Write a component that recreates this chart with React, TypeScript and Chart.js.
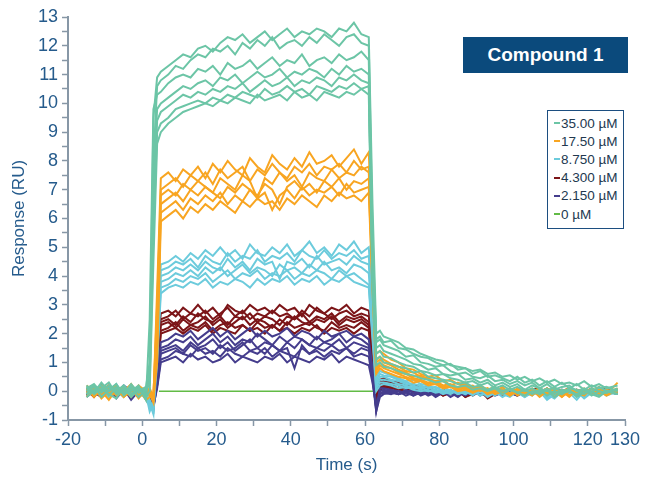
import React, { useEffect, useRef } from "react";
import { Chart, registerables } from "chart.js";
Chart.register(...registerables);

// time grid (s)
const T = [-15,-13,-11,-9,-7,-5,-3,-1,1, 2,3,4,5, 7,9,11,13,15,17,19,21,23,25,27,29,31,33,35,37,39,41,43,45,47,49,51,53,55,57,59,61, 62,63,64, 65,67,69,71,73,75,77,79,81,83,85,87,89,91,93,95,97,99,101,103,105,107,109,111,113,115,117,119,121,123,125,128];

const LABELS = ["35.00 µM", "17.50 µM", "8.750 µM", "4.300 µM", "2.150 µM", "0 µM"];
const COLORS = ["#6cc5a6", "#f8a521", "#6ccbdc", "#7c1518", "#453d8d", "#62bb46"];

// 35.00 µM replicates
const G1 = [0.1,0.25,-0.05,0.15,0.0,0.2,-0.1,0.1,0.0, 0.8,9.5,10.9,11.1, 11.3,11.5,11.7,11.6,11.9,12.0,11.8,12.1,12.3,12.2,12.4,12.1,12.3,12.5,12.2,12.4,12.6,12.3,12.5,12.4,12.6,12.5,12.3,12.6,12.5,12.8,12.4,12.3, 6.5,2.0,2.1, 1.9,1.8,1.7,1.5,1.45,1.3,1.2,1.1,1.05,0.9,0.85,0.8,0.7,0.75,0.6,0.65,0.5,0.55,0.4,0.5,0.35,0.45,0.3,0.4,0.25,0.3,0.2,0.35,0.15,0.25,0.1,0.2];
const G2 = [-0.1,0.05,0.2,-0.15,0.1,-0.05,0.15,-0.2,0.05, 0.3,8.0,10.6,10.8, 11.0,11.3,11.2,11.5,11.7,11.6,11.9,11.8,12.0,11.7,12.1,11.9,12.2,12.0,12.3,11.9,12.1,12.2,12.0,12.3,12.1,12.4,12.2,12.0,12.3,12.4,12.1,12.0, 5.5,1.8,1.9, 1.7,1.75,1.5,1.45,1.3,1.2,1.15,1.0,0.9,0.95,0.75,0.8,0.6,0.7,0.5,0.55,0.45,0.35,0.5,0.3,0.4,0.2,0.35,0.15,0.3,0.1,0.25,0.05,0.2,0.1,0.15,0.0];
const G3 = [0.2,-0.1,0.1,0.3,-0.1,0.1,0.0,0.2,-0.3, 2.5,9.8,10.3,10.4, 10.7,10.9,11.0,10.9,11.2,11.1,11.3,11.0,11.4,11.2,11.3,11.5,11.2,11.4,11.6,11.3,11.5,11.4,11.7,11.3,11.5,11.6,11.4,11.7,11.5,11.6,11.8,11.5, 5.0,1.7,1.8, 1.6,1.5,1.4,1.2,1.25,1.0,0.95,0.85,0.9,0.7,0.6,0.65,0.5,0.45,0.55,0.35,0.4,0.25,0.35,0.2,0.3,0.1,0.25,0.05,0.15,0.2,0.0,0.1,-0.05,0.15,0.0,0.05];
const G4 = [0.0,0.2,-0.2,0.05,0.25,-0.15,0.1,0.0,0.15, 1.0,7.5,9.8,10.0, 10.2,10.4,10.6,10.5,10.7,10.8,10.6,10.9,10.8,11.0,10.7,10.9,11.1,10.9,11.0,11.2,10.9,11.1,11.0,11.2,11.1,10.9,11.2,11.0,11.3,11.1,11.2,11.0, 4.5,1.5,1.6, 1.4,1.3,1.2,1.1,0.95,0.9,0.75,0.8,0.6,0.55,0.6,0.4,0.45,0.3,0.4,0.2,0.3,0.15,0.25,0.05,0.2,0.1,0.0,0.15,-0.05,0.1,0.05,-0.1,0.1,0.0,-0.05,0.1];
const G5 = [-0.2,0.0,0.1,-0.1,-0.25,0.15,-0.2,0.05,-0.1, 0.5,6.5,9.4,9.7, 9.9,10.1,10.3,10.2,10.4,10.3,10.5,10.4,10.6,10.5,10.7,10.4,10.6,10.8,10.6,10.7,10.9,10.6,10.8,10.7,10.9,10.8,10.6,10.9,10.8,11.0,10.8,10.7, 4.0,1.3,1.4, 1.2,1.15,1.0,0.9,0.85,0.7,0.65,0.55,0.6,0.45,0.4,0.3,0.35,0.2,0.3,0.1,0.2,0.05,0.15,0.0,0.1,-0.05,0.1,-0.1,0.05,0.0,-0.1,0.05,-0.15,0.0,-0.05,0.05];
const G6 = [0.1,-0.05,0.3,0.0,0.15,-0.1,0.25,-0.05,0.1, 0.2,5.5,9.0,9.3, 9.5,9.8,9.9,10.0,10.1,10.0,10.2,10.1,10.3,10.2,10.4,10.3,10.2,10.5,10.3,10.4,10.6,10.4,10.5,10.3,10.6,10.5,10.4,10.6,10.5,10.7,10.5,10.6, 3.8,1.1,1.2, 1.0,0.95,0.85,0.8,0.65,0.7,0.5,0.45,0.4,0.35,0.25,0.3,0.15,0.2,0.05,0.15,0.0,0.1,-0.05,0.05,-0.1,0.05,-0.15,0.0,-0.1,0.05,-0.2,-0.05,0.0,-0.15,0.0,-0.1];
const G7 = [-0.1,0.15,0.0,0.2,-0.05,0.05,-0.15,0.15,-0.2, 0.0,4.5,8.6,9.0, 9.3,9.5,9.7,9.8,9.9,10.0,9.9,10.1,10.0,10.2,10.1,10.0,10.3,10.1,10.2,10.3,10.1,10.4,10.2,10.3,10.1,10.4,10.3,10.2,10.4,10.3,10.5,10.3, 3.5,0.9,1.0, 0.85,0.8,0.7,0.6,0.55,0.45,0.4,0.3,0.35,0.2,0.15,0.2,0.05,0.1,0.0,0.1,-0.1,0.05,-0.05,-0.15,0.0,-0.1,0.05,-0.2,-0.05,0.0,-0.15,0.05,-0.1,-0.2,0.0,-0.1];

// 17.50 µM replicates
const O1 = [0.1,-0.2,0.05,0.2,-0.1,0.0,0.25,-0.15,0.1, -0.1,-0.3,3.5,7.4, 7.6,7.3,7.7,7.5,7.8,7.4,7.9,7.6,8.0,7.7,7.5,8.1,7.8,7.6,8.2,7.9,7.7,8.1,7.8,8.3,7.9,8.0,8.2,7.8,8.1,8.4,7.9,8.3, 5.0,1.3,1.4, 1.3,1.1,1.0,0.8,0.75,0.6,0.5,0.55,0.35,0.4,0.25,0.3,0.1,0.2,0.05,0.15,-0.1,0.1,0.0,-0.15,0.05,-0.05,0.1,-0.2,0.0,0.1,-0.1,0.05,-0.05,0.15,-0.1,0.3];
const O2 = [-0.1,0.15,-0.25,0.0,0.2,-0.2,0.05,0.1,-0.3, -0.2,-0.1,2.5,7.0, 7.2,7.4,7.1,7.5,7.3,7.6,7.2,7.7,7.4,7.6,7.8,7.3,7.7,7.5,7.9,7.6,7.4,7.8,7.6,7.9,7.5,7.8,7.7,7.9,7.6,8.0,7.7,7.8, 4.5,1.1,1.2, 1.1,0.95,0.85,0.7,0.65,0.5,0.45,0.35,0.4,0.2,0.3,0.15,0.2,0.0,0.1,-0.05,0.15,-0.1,0.05,0.0,-0.15,0.1,-0.05,0.05,-0.2,0.0,-0.1,0.1,-0.05,0.0,-0.15,0.05];
const O3 = [0.2,0.0,0.1,-0.1,0.15,0.05,-0.2,0.2,0.0, 0.1,-0.2,3.0,6.8, 7.0,6.8,7.2,7.0,7.3,7.1,6.9,7.4,7.2,7.0,7.5,7.3,6.7,7.4,7.2,7.6,7.3,7.5,7.1,7.6,7.4,7.3,7.7,7.4,7.6,7.5,7.8,7.6, 4.2,1.0,1.1, 1.0,0.9,0.75,0.65,0.5,0.55,0.4,0.3,0.35,0.2,0.15,0.25,0.05,0.15,-0.05,0.1,0.0,-0.1,0.1,-0.05,0.05,-0.2,0.0,0.1,-0.1,0.05,-0.05,-0.15,0.1,0.0,-0.1,0.0];
const O4 = [-0.2,0.1,0.0,-0.3,0.05,0.15,-0.1,0.0,0.1, -0.1,-0.4,2.0,6.5, 6.7,6.9,6.6,7.0,6.8,7.1,6.9,6.7,7.1,6.9,7.2,7.0,6.8,7.2,7.0,6.5,7.1,7.3,7.0,7.2,6.9,7.3,7.1,7.4,7.0,7.3,7.2,7.4, 4.0,0.8,1.0, 0.9,0.8,0.65,0.6,0.45,0.4,0.3,0.35,0.2,0.25,0.1,0.15,0.0,0.1,-0.1,0.05,-0.05,0.1,-0.15,0.0,0.05,-0.1,0.1,-0.05,0.0,-0.2,0.05,-0.05,0.1,-0.1,0.0,0.05];
const O5 = [0.05,-0.1,0.2,0.1,-0.15,-0.05,0.1,-0.25,0.05, 0.0,-0.2,1.5,6.2, 6.4,6.6,6.3,6.7,6.5,6.8,6.6,6.9,6.5,6.8,6.6,7.0,6.7,6.9,6.3,6.8,7.0,6.7,7.1,6.8,7.0,6.9,7.1,6.8,7.2,6.9,7.0,7.1, 3.8,0.7,0.9, 0.8,0.7,0.6,0.5,0.4,0.35,0.25,0.3,0.15,0.2,0.05,0.1,-0.05,0.05,0.1,-0.1,0.0,-0.15,0.05,-0.05,0.0,0.1,-0.1,0.0,-0.2,0.05,-0.05,0.0,-0.1,0.05,-0.05,0.1];
const O6 = [-0.05,0.2,-0.1,0.05,0.1,-0.2,0.0,0.15,-0.15, -0.1,-0.3,1.0,5.9, 6.1,6.3,6.0,6.4,6.2,6.5,6.3,6.6,6.4,6.2,6.6,6.4,6.7,6.5,6.6,6.3,6.7,6.5,6.8,6.6,6.4,6.8,6.6,6.9,6.7,6.8,6.6,6.9, 3.5,0.6,0.8, 0.7,0.6,0.5,0.45,0.3,0.35,0.2,0.25,0.1,0.15,0.0,0.05,-0.05,0.1,-0.1,0.0,0.05,-0.15,0.0,-0.05,0.1,-0.1,0.0,-0.05,0.05,-0.15,0.0,0.05,-0.1,0.0,0.05,-0.05];

// 8.750 µM replicates
const C1 = [0.0,0.1,-0.2,0.15,-0.05,0.1,-0.15,0.05,-0.3, -0.5,-0.7,2.5,4.4, 4.5,4.7,4.5,4.8,4.6,4.9,4.7,5.0,4.7,4.9,4.6,5.1,4.8,4.7,5.0,4.8,5.1,4.7,4.9,5.2,4.8,5.0,4.7,5.1,4.9,5.2,4.8,5.0, 3.0,0.5,0.7, 0.65,0.55,0.45,0.35,0.4,0.25,0.2,0.1,0.15,0.0,0.05,-0.1,0.05,-0.05,0.0,-0.15,0.05,-0.1,0.0,-0.2,-0.05,0.0,-0.3,-0.1,0.05,-0.15,0.0,-0.25,-0.05,0.0,-0.1,0.05];
const C2 = [0.15,-0.1,0.05,-0.2,0.1,0.0,0.2,-0.1,-0.2, -0.4,-0.8,2.0,4.2, 4.3,4.5,4.4,4.6,4.3,4.7,4.5,4.4,4.8,4.5,4.7,4.6,4.9,4.5,4.7,4.6,4.8,4.5,4.9,4.7,4.6,4.9,4.6,4.8,4.7,4.9,4.6,4.7, 2.8,0.4,0.6, 0.55,0.5,0.4,0.3,0.25,0.2,0.1,0.15,0.0,0.05,-0.1,0.0,-0.05,0.05,-0.15,0.0,-0.1,-0.2,0.0,-0.05,-0.15,0.05,-0.25,-0.1,0.0,-0.05,-0.3,0.0,-0.1,0.05,-0.15,0.0];
const C3 = [-0.1,0.2,0.0,-0.05,0.25,-0.1,0.05,0.1,0.0, -0.3,-0.6,1.8,4.0, 4.1,4.3,4.2,4.4,4.2,4.5,4.3,4.2,4.6,4.3,4.5,4.2,4.6,4.4,4.5,3.9,4.5,4.4,4.6,4.3,4.7,4.4,4.5,4.6,4.4,4.7,4.5,4.4, 2.5,0.3,0.5, 0.5,0.4,0.35,0.25,0.2,0.1,0.15,0.0,0.05,-0.05,0.0,-0.1,0.05,-0.15,0.0,-0.05,0.1,-0.1,0.0,-0.15,0.05,-0.05,-0.2,0.0,-0.1,0.05,-0.05,-0.15,0.0,-0.05,0.05,-0.1];
const C4 = [0.05,-0.15,0.1,0.0,-0.1,0.2,-0.05,-0.15,0.1, -0.6,-0.5,1.5,3.8, 3.9,4.1,4.0,4.2,4.0,4.3,4.1,4.3,4.0,4.2,4.4,4.1,4.3,4.2,4.0,4.4,4.2,4.3,4.1,4.4,4.2,4.5,4.2,4.3,4.1,4.4,4.3,4.1, 2.3,0.2,0.4, 0.4,0.35,0.25,0.2,0.1,0.15,0.0,0.05,-0.05,0.05,-0.1,0.0,-0.15,0.05,-0.05,0.0,-0.2,-0.05,0.05,-0.1,0.0,-0.15,0.05,-0.05,-0.1,0.0,0.05,-0.2,-0.05,0.0,-0.1,0.0];
const C5 = [-0.2,0.05,-0.1,0.1,0.0,-0.2,0.15,0.0,-0.1, -0.7,-0.4,1.2,3.6, 3.7,3.9,3.8,4.0,3.9,4.1,3.8,4.0,4.2,3.9,4.1,4.0,4.2,3.9,4.1,4.0,4.2,3.9,4.1,4.0,4.2,4.1,3.9,4.2,4.0,4.1,3.9,3.7, 2.0,0.1,0.3, 0.3,0.25,0.2,0.1,0.15,0.05,0.0,0.05,-0.1,0.0,-0.05,0.05,-0.1,0.0,-0.2,-0.05,0.0,-0.1,0.05,-0.15,-0.05,0.0,-0.1,-0.25,0.0,-0.05,-0.15,0.0,-0.1,0.05,-0.05,-0.1];
const C6 = [0.1,0.0,0.15,-0.2,0.05,-0.1,0.0,0.1,-0.2, -0.5,-0.7,1.0,3.4, 3.6,3.7,3.6,3.8,3.7,3.9,3.6,3.8,3.7,3.9,3.8,3.6,3.9,3.7,3.9,3.8,4.0,3.7,3.9,3.8,4.0,3.7,3.9,3.8,4.0,3.8,3.7,3.6, 1.8,0.0,0.2, 0.25,0.2,0.1,0.15,0.05,0.0,0.05,-0.05,0.0,-0.1,0.05,-0.05,0.0,-0.15,-0.05,0.0,-0.1,0.05,-0.05,-0.2,0.0,-0.05,-0.1,0.0,-0.15,-0.05,0.0,-0.1,0.05,-0.05,-0.1,0.0];

// 4.300 µM replicates
const R1 = [0.0,0.15,-0.1,0.05,0.2,-0.1,0.1,-0.2,0.0, -0.2,-0.5,1.5,2.7, 2.8,2.6,2.9,2.7,3.0,2.7,2.9,2.6,3.0,2.8,2.7,3.0,2.8,2.9,2.7,3.0,2.8,2.9,2.6,3.0,2.8,2.7,2.9,2.8,3.0,2.7,2.9,2.8, 1.5,-0.2,0.4, 0.45,0.35,0.3,0.2,0.25,0.1,0.15,0.0,0.05,-0.1,0.0,-0.05,0.05,-0.15,0.0,-0.1,0.05,-0.05,0.0,-0.1,0.05,0.1,-0.05,0.0,-0.1,0.05,0.0,-0.05,0.1,-0.1,0.0,0.05];
const R2 = [0.1,-0.1,0.2,0.0,-0.15,0.05,-0.05,0.15,-0.1, -0.3,-0.4,1.3,2.5, 2.6,2.8,2.5,2.7,2.6,2.8,2.5,2.7,2.9,2.6,2.8,2.5,2.7,2.6,2.8,2.6,2.7,2.5,2.8,2.6,2.9,2.7,2.5,2.7,2.8,2.6,2.7,2.6, 1.4,-0.3,0.3, 0.35,0.3,0.2,0.15,0.1,0.05,0.1,-0.05,0.0,-0.1,0.05,-0.2,-0.05,0.0,-0.1,0.05,-0.15,0.0,-0.05,0.05,-0.1,0.0,0.05,-0.05,0.0,0.1,-0.1,0.0,-0.05,0.05,0.0,-0.1];
const R3 = [-0.15,0.05,0.0,0.2,-0.05,0.1,-0.2,0.0,0.1, -0.2,-0.6,1.0,2.4, 2.5,2.3,2.6,2.4,2.7,2.5,2.4,2.6,2.3,2.6,2.5,2.7,2.4,2.6,2.5,2.3,2.6,2.5,2.7,2.4,2.6,2.5,2.7,2.4,2.6,2.5,2.6,2.4, 1.3,-0.4,0.2, 0.3,0.2,0.25,0.1,0.05,0.1,-0.05,0.0,-0.15,-0.05,0.0,-0.2,-0.1,0.05,-0.25,-0.1,0.0,-0.05,-0.15,0.0,0.05,-0.1,0.0,-0.05,0.05,-0.1,0.0,-0.15,0.0,-0.05,0.05,0.0];
const R4 = [0.05,-0.2,0.1,-0.1,0.0,0.15,0.05,-0.15,0.05, -0.1,-0.3,0.8,2.3, 2.4,2.2,2.5,2.3,2.4,2.6,2.3,2.5,2.2,2.4,2.6,2.3,2.5,2.4,2.2,2.5,2.3,2.6,2.4,2.3,2.5,2.4,2.6,2.3,2.5,2.4,2.5,2.3, 1.2,-0.3,0.15, 0.25,0.2,0.1,0.15,0.0,0.05,-0.1,0.0,-0.05,0.05,-0.15,0.0,-0.1,0.0,0.05,-0.05,-0.1,0.0,0.05,-0.1,0.0,-0.05,0.1,-0.05,0.0,-0.1,0.05,0.0,-0.05,0.0,0.1,-0.05];
const R5 = [-0.05,0.1,-0.15,0.05,0.15,-0.05,0.0,0.1,-0.2, -0.3,-0.5,0.7,2.1, 2.2,2.4,2.1,2.3,2.2,2.4,2.1,2.3,2.4,2.2,2.3,2.1,2.4,2.2,2.3,2.1,2.4,2.2,2.3,2.4,2.2,2.1,2.4,2.2,2.3,2.2,2.4,2.2, 1.0,-0.5,0.1, 0.2,0.15,0.05,0.1,-0.05,0.0,-0.1,0.05,-0.15,-0.05,0.0,-0.1,0.05,-0.05,-0.2,0.0,-0.1,0.05,-0.05,0.0,-0.1,0.05,-0.05,0.0,-0.1,0.0,0.05,-0.1,0.0,0.05,-0.05,0.0];
const R6 = [0.1,-0.05,0.05,-0.15,0.1,0.0,-0.1,0.05,0.0, -0.2,-0.4,0.5,2.0, 2.1,2.2,2.0,2.2,2.1,2.3,2.0,2.2,2.1,2.0,2.3,2.1,2.2,2.0,2.3,2.1,2.2,2.0,2.2,2.1,2.3,2.0,2.2,2.1,2.2,2.0,2.2,2.1, 0.9,-0.4,0.0, 0.15,0.1,0.05,0.0,0.05,-0.1,0.0,-0.05,0.05,-0.1,-0.05,0.0,-0.15,0.0,0.05,-0.1,0.0,-0.05,0.05,-0.1,0.0,-0.05,0.0,0.05,-0.1,0.0,-0.05,0.05,0.0,-0.1,0.0,0.05];

// 2.150 µM replicates
const I1 = [-0.1,0.05,0.15,-0.2,0.0,0.1,-0.3,0.0,0.05, -0.3,-0.5,0.5,1.7, 1.8,2.0,1.9,2.1,1.8,2.0,2.2,1.9,2.1,1.8,2.0,2.2,1.9,2.1,1.9,2.0,2.2,1.9,2.1,2.0,1.8,2.1,1.9,2.0,2.1,1.9,2.0,1.8, 0.8,-0.6,0.1, 0.1,0.05,0.0,-0.05,0.05,-0.1,0.0,-0.15,-0.05,0.0,-0.1,0.05,-0.05,0.0,-0.1,0.0,0.05,-0.1,0.0,-0.05,0.05,-0.1,0.0,-0.05,0.05,0.0,-0.1,0.0,0.05,-0.05,0.0,-0.1];
const I2 = [0.05,-0.15,0.0,0.1,-0.1,0.2,0.0,-0.15,0.0, -0.2,-0.6,0.4,1.5, 1.6,1.8,1.7,1.9,1.6,1.8,2.0,1.7,1.9,1.6,1.8,1.7,2.0,1.8,1.6,1.9,1.7,1.9,1.8,1.6,1.9,1.7,1.8,2.0,1.7,1.9,1.8,1.6, 0.7,-0.7,0.0, 0.05,0.0,-0.1,0.05,-0.05,0.0,-0.15,-0.05,0.0,-0.1,0.05,-0.05,-0.1,0.0,-0.05,0.05,-0.1,0.0,-0.05,0.0,-0.1,0.05,-0.05,0.0,-0.1,0.0,0.05,-0.05,-0.1,0.0,0.05,-0.05];
const I3 = [-0.2,0.0,0.1,-0.05,0.15,-0.1,0.05,-0.2,0.1, -0.1,-0.4,0.3,1.4, 1.5,1.6,1.4,1.7,1.5,1.6,1.8,1.5,1.7,1.4,1.6,1.8,1.5,1.7,1.6,1.4,1.7,1.5,1.8,1.6,1.5,1.7,1.6,1.8,1.5,1.7,1.6,1.5, 0.6,-0.5,-0.1, 0.0,-0.05,-0.1,0.0,-0.15,-0.05,0.0,-0.1,0.05,-0.05,-0.2,0.0,-0.1,-0.05,0.0,-0.1,0.05,-0.05,0.0,-0.15,-0.05,0.0,0.05,-0.1,0.0,-0.05,-0.1,0.0,0.05,-0.1,-0.05,0.0];
const I4 = [0.1,-0.05,-0.2,0.05,0.0,-0.15,0.1,0.05,-0.1, -0.4,-0.5,0.2,1.3, 1.4,1.5,1.3,1.6,1.4,1.5,1.3,1.6,1.4,1.5,1.7,1.4,1.5,1.3,1.6,1.4,1.5,0.8,1.6,1.3,1.5,1.4,1.6,1.4,1.5,1.3,1.5,1.4, 0.5,-0.6,-0.1, -0.05,0.0,-0.1,-0.05,0.05,-0.15,-0.05,0.0,-0.1,0.0,-0.05,-0.15,0.0,-0.1,0.05,-0.05,-0.1,0.0,-0.05,0.05,-0.1,0.0,-0.05,-0.1,0.0,0.05,-0.05,0.0,-0.1,0.0,-0.05,0.05];
const I5 = [0.0,0.1,-0.1,0.15,-0.25,0.05,-0.05,0.1,-0.15, -0.3,-0.6,0.2,1.1, 1.2,1.4,1.3,1.2,1.5,1.3,1.4,1.2,1.5,1.3,1.2,1.4,1.3,1.5,1.2,1.4,1.3,1.2,1.5,1.3,1.4,1.2,1.4,1.3,1.5,1.2,1.3,1.2, 0.4,-0.7,-0.2, -0.1,-0.05,0.0,-0.15,-0.05,-0.1,0.0,-0.2,-0.05,0.0,-0.1,-0.05,0.05,-0.1,0.0,-0.15,-0.05,0.0,-0.1,0.05,-0.05,-0.1,0.0,-0.05,0.05,-0.1,0.0,-0.05,0.0,-0.1,0.05,0.0];
const I6 = [-0.1,0.05,0.0,-0.15,0.1,0.0,-0.2,0.1,0.0, -0.2,-0.5,0.1,1.0, 1.1,1.2,1.0,1.3,1.1,1.2,1.0,1.1,1.3,1.0,1.2,1.1,1.0,1.2,1.1,1.3,1.0,1.2,1.1,1.0,1.2,1.1,1.3,1.0,1.2,1.1,1.0,0.9, 0.3,-0.5,-0.1, -0.05,-0.1,0.0,-0.05,-0.15,0.0,-0.1,-0.05,0.0,-0.2,-0.05,0.0,-0.1,0.05,-0.05,-0.1,0.0,-0.05,-0.15,0.0,-0.05,0.05,-0.1,0.0,-0.05,-0.1,0.0,0.05,-0.05,-0.1,0.0,-0.05];

// 0 µM
const ZERO_T = [4.5, 63.5];
const ZERO_V = [0, 0];

const GROUPS = [
  [G1, G2, G3, G4, G5, G6, G7],
  [O1, O2, O3, O4, O5, O6],
  [C1, C2, C3, C4, C5, C6],
  [I1, I2, I3, I4, I5, I6],
  [R1, R2, R3, R4, R5, R6],
];
const GROUP_COLOR_INDEX = [0, 1, 2, 4, 3];

const X_TICK_LABELS = [-20, 0, 20, 40, 60, 80, 100, 120, 130];

const AXIS_TEXT = "#255b8c";
const AXIS_LINE = "#8797a6";
const FONT = "'Liberation Sans', Arial, sans-serif";

export default function App() {
  const ref = useRef<HTMLCanvasElement | null>(null);

  useEffect(() => {
    if (!ref.current) return;
    const datasets: any[] = [];
    GROUPS.forEach((grp, gi) => {
      const color = COLORS[GROUP_COLOR_INDEX[gi]];
      grp.forEach((vals, k) => {
        datasets.push({
          label: LABELS[GROUP_COLOR_INDEX[gi]] + " #" + (k + 1),
          data: T.map((t, i) => ({ x: t, y: vals[i] })),
          borderColor: color,
          backgroundColor: color,
          borderWidth: 2,
          pointRadius: 0,
          tension: 0,
          fill: false,
        });
      });
    });
    datasets.push({
      label: LABELS[5],
      data: ZERO_T.map((t, i) => ({ x: t, y: ZERO_V[i] })),
      borderColor: COLORS[5],
      borderWidth: 1.5,
      pointRadius: 0,
      fill: false,
    });

    const chart = new Chart(ref.current, {
      type: "line",
      data: { datasets },
      options: {
        responsive: false,
        animation: false,
        events: [],
        layout: { padding: { top: 17, right: 21, left: 0, bottom: 0 } },
        plugins: { legend: { display: false }, tooltip: { enabled: false } },
        scales: {
          x: {
            type: "linear",
            min: -20,
            max: 130,
            afterFit: (s: any) => { s.height = 60; },
            border: { color: AXIS_LINE, width: 2 },
            grid: { drawOnChartArea: false, tickLength: 6, color: AXIS_LINE, tickWidth: 1.5 },
            ticks: {
              stepSize: 10,
              autoSkip: false,
              maxRotation: 0,
              padding: 3,
              color: AXIS_TEXT,
              font: { family: FONT, size: 18 },
              callback: (v: any) => (X_TICK_LABELS.includes(Number(v)) ? String(v) : ""),
            },
            title: {
              display: true,
              text: "Time (s)",
              color: AXIS_TEXT,
              font: { family: FONT, size: 17 },
              padding: { top: 0, bottom: 4 },
            },
          },
          y: {
            type: "linear",
            min: -1,
            max: 13,
            afterFit: (s: any) => { s.width = 68; },
            border: { color: AXIS_LINE, width: 2 },
            grid: { drawOnChartArea: false, tickLength: 6, color: AXIS_LINE, tickWidth: 1.5 },
            ticks: {
              stepSize: 0.5,
              autoSkip: false,
              padding: 4,
              color: AXIS_TEXT,
              font: { family: FONT, size: 18 },
              callback: (v: any) => (Number.isInteger(Number(v)) ? String(v) : ""),
            },
            title: {
              display: true,
              text: "Response (RU)",
              color: AXIS_TEXT,
              font: { family: FONT, size: 17 },
              padding: { top: 9, bottom: 0 },
            },
          },
        },
      },
    });
    return () => chart.destroy();
  }, []);

  return (
    <div style={{ position: "absolute", left: 0, top: 0, width: 646, height: 480, background: "#fff" }}>
      <canvas ref={ref} width={646} height={480} style={{ display: "block" }} />
      <div
        style={{
          position: "absolute", left: 463, top: 37, width: 165, height: 36,
          background: "#0b4a7c", color: "#fff", fontFamily: FONT, fontWeight: "bold",
          fontSize: 19, display: "flex", alignItems: "center", justifyContent: "center",
        }}
      >
        Compound 1
      </div>
      <div
        style={{
          position: "absolute", left: 547, top: 110, width: 75, height: 114,
          border: "1.5px solid #1c4e80", background: "#fff", fontFamily: FONT, fontSize: 13.5,
          color: "#22384f", boxSizing: "content-box", paddingTop: 3,
        }}
      >
        {LABELS.map((lab, i) => (
          <div key={lab} style={{ display: "flex", alignItems: "center", height: 18.2, paddingLeft: 5.5, whiteSpace: "nowrap" }}>
            <span style={{ display: "inline-block", width: 6, height: 2, background: COLORS[i], marginRight: 1.5, flex: "none" }} />
            <span>{lab}</span>
          </div>
        ))}
      </div>
    </div>
  );
}
